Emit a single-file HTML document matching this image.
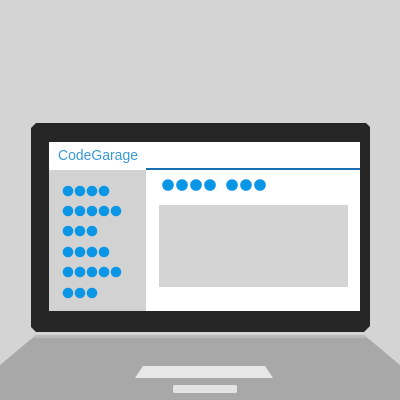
<!DOCTYPE html>
<html><head><style>
body{margin:0;width:400px;height:400px;overflow:hidden;background:#d4d4d4;font-family:"Liberation Sans",sans-serif}
</style></head><body>
<svg width="400" height="400" viewBox="0 0 400 400" style="position:absolute;left:0;top:0">
<rect width="400" height="400" fill="#d4d4d4"/>
<polygon points="36,335 364,335 400,365 400,400 0,400 0,365" fill="#a8a8a8"/>
<polygon points="36,335 364,335 367,338 33,338" fill="#b8b8b8"/>
<polygon points="36,123 366,123 370,127 370,326 364,332 36,332 31,327 31,128" fill="#262626"/>
<rect x="49" y="142" width="311" height="169" fill="#fff"/>
<rect x="49" y="170" width="97" height="141" fill="#d2d2d2"/>
<rect x="146" y="168" width="214" height="2" fill="#1a6fb0"/>
<text x="58" y="160" font-size="15" fill="#3a9ad9" textLength="80" lengthAdjust="spacingAndGlyphs" font-family="Liberation Sans,sans-serif">CodeGarage</text>
<rect x="159" y="205" width="189" height="82" fill="#d4d4d4"/>
<polygon points="143,366 265,366 273,378 135,378" fill="#e8e8e8"/>
<rect x="173" y="385" width="64" height="8" rx="2" fill="#e4e4e4"/>
<g fill="#0a96e6">
<circle cx="68" cy="191" r="5.3"/><circle cx="80" cy="191" r="5.3"/><circle cx="92" cy="191" r="5.3"/><circle cx="104" cy="191" r="5.3"/>
<circle cx="68" cy="211" r="5.3"/><circle cx="80" cy="211" r="5.3"/><circle cx="92" cy="211" r="5.3"/><circle cx="104" cy="211" r="5.3"/><circle cx="116" cy="211" r="5.3"/>
<circle cx="68" cy="231" r="5.3"/><circle cx="80" cy="231" r="5.3"/><circle cx="92" cy="231" r="5.3"/>
<circle cx="68" cy="252" r="5.3"/><circle cx="80" cy="252" r="5.3"/><circle cx="92" cy="252" r="5.3"/><circle cx="104" cy="252" r="5.3"/>
<circle cx="68" cy="272" r="5.3"/><circle cx="80" cy="272" r="5.3"/><circle cx="92" cy="272" r="5.3"/><circle cx="104" cy="272" r="5.3"/><circle cx="116" cy="272" r="5.3"/>
<circle cx="68" cy="293" r="5.3"/><circle cx="80" cy="293" r="5.3"/><circle cx="92" cy="293" r="5.3"/>
<circle cx="168" cy="185" r="5.8"/><circle cx="182" cy="185" r="5.8"/><circle cx="196" cy="185" r="5.8"/><circle cx="210" cy="185" r="5.8"/>
<circle cx="232" cy="185" r="5.8"/><circle cx="246" cy="185" r="5.8"/><circle cx="260" cy="185" r="5.8"/>
</g>
</svg>
</body></html>
